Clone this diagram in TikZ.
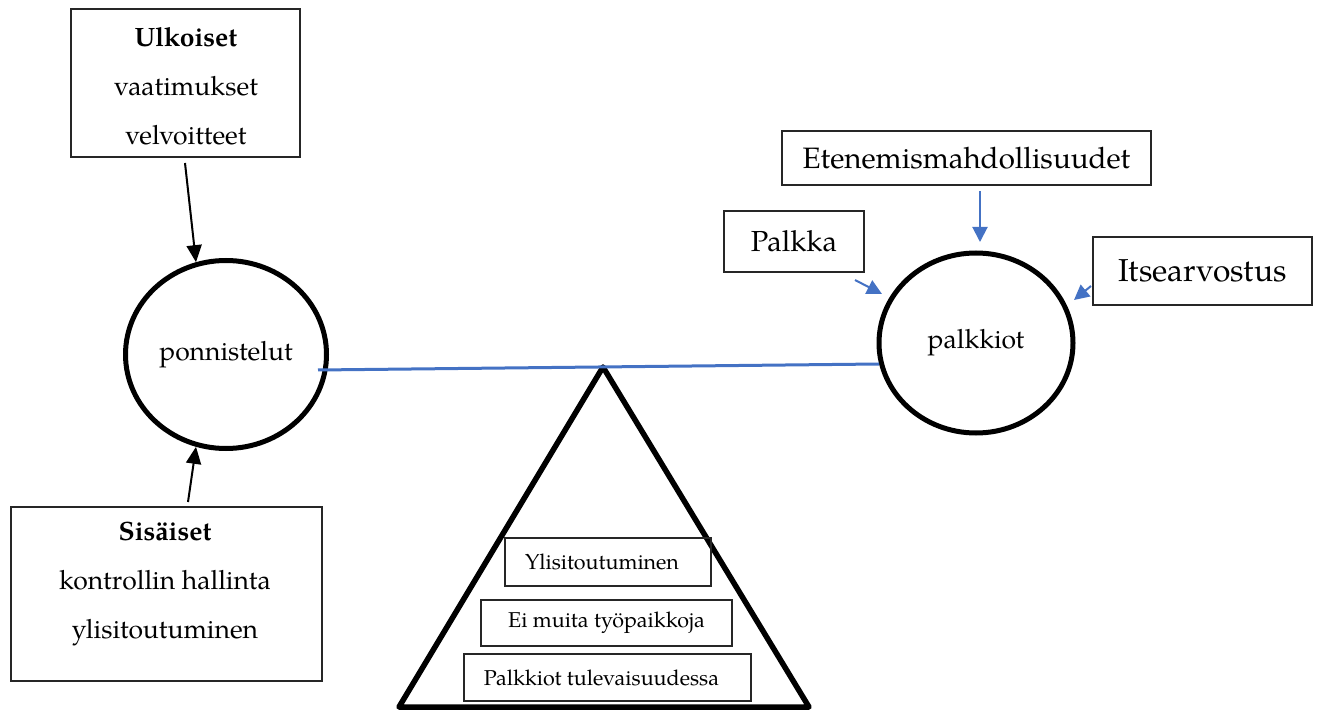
\documentclass[tikz,border=0pt]{standalone}
\usepackage{fontspec}
\setmainfont{TeX Gyre Pagella}
\usetikzlibrary{arrows.meta,shapes.geometric}
\definecolor{accent}{RGB}{68,114,196}
\begin{document}
\begin{tikzpicture}[x=1pt,y=-1pt,
  box/.style={draw=black!85,line width=1.4pt,inner sep=0pt},
  ring/.style={draw=black,ellipse,line width=5pt,inner sep=0pt},
  blackarrow/.style={draw=black,line width=2pt,-{Triangle[length=17pt,width=15pt]}},
  bluearrow/.style={draw=accent,line width=2pt,-{Triangle[length=15pt,width=15pt]}},
  bigtext/.style={font=\fontsize{26.5}{49}\selectfont},
  smalltext/.style={font=\fontsize{21.5}{26}\selectfont},
  lever/.style={draw=accent,line width=3pt},
  fulcrum/.style={draw=black,line width=5.5pt,line join=round}
]
\useasboundingbox (0,0) rectangle (1318,711);

% left side
\node[box,minimum width=229pt,minimum height=148pt] (ulk) at (185.5,83) {};
\node[bigtext,align=center,inner sep=0pt] (ulkt) at (186,86) {\textbf{Ulkoiset}\\vaatimukset\\velvoitteet};
\node[box,minimum width=311pt,minimum height=174pt] (sis) at (166.5,594) {};
\node[bigtext,align=center,inner sep=0pt] (sist) at (165,584) {\textbf{Sisäiset}\\kontrollin hallinta\\ylisitoutuminen};
\node[ring,minimum width=201pt,minimum height=188pt,bigtext] (pon) at (226,354.5) {ponnistelut};

% right side
\node[ring,minimum width=194pt,minimum height=180pt,bigtext] (pal) at (976,343) {palkkiot};
\node[box,minimum width=369pt,minimum height=54pt,font=\fontsize{29.5}{35}\selectfont] (eten) at (966.5,158) {Etenemismahdollisuudet};
\node[box,minimum width=140pt,minimum height=61pt,font=\fontsize{29}{35}\selectfont] (palkka) at (794,241.5) {Palkka};
\node[box,minimum width=219pt,minimum height=68pt,font=\fontsize{31.7}{38}\selectfont] (itse) at (1202.5,271) {Itsearvostus};

% fulcrum
\coordinate (apex) at (603,367);
\coordinate (bl) at (399,707);
\coordinate (br) at (809,707);
\draw[fulcrum] (apex) -- (bl) -- (br) -- cycle;
\node[box,line width=1.1pt,minimum width=206pt,minimum height=48pt,smalltext] (y1) at (608,562) {\hspace*{-12pt}Ylisitoutuminen};
\node[box,line width=1.1pt,minimum width=251pt,minimum height=46pt,smalltext] (y2) at (606.5,623) {Ei muita työpaikkoja};
\node[box,line width=1.1pt,minimum width=287pt,minimum height=47pt,smalltext] (y3) at (607.5,677.5) {\hspace*{-12pt}Palkkiot tulevaisuudessa};

% lever
\coordinate (levl) at (318,370);
\coordinate (levr) at (879,364);
\draw[lever] (levl) -- (levr);

% arrows
\coordinate (a1s) at (185,163);
\coordinate (a2s) at (188,502);
\coordinate (b1s) at (980,191);
\coordinate (b1e) at (980,242);
\coordinate (b2s) at (855,280);
\coordinate (b2e) at (882,294);
\coordinate (b3s) at (1091,286);
\coordinate (b3e) at (1074,300);
\draw[blackarrow] (a1s) -- (pon.108.5);
\draw[blackarrow] (a2s) -- (pon.252.5);
\draw[bluearrow] (b1s) -- (b1e);
\draw[bluearrow] (b2s) -- (b2e);
\draw[bluearrow] (b3s) -- (b3e);
\end{tikzpicture}
\end{document}
